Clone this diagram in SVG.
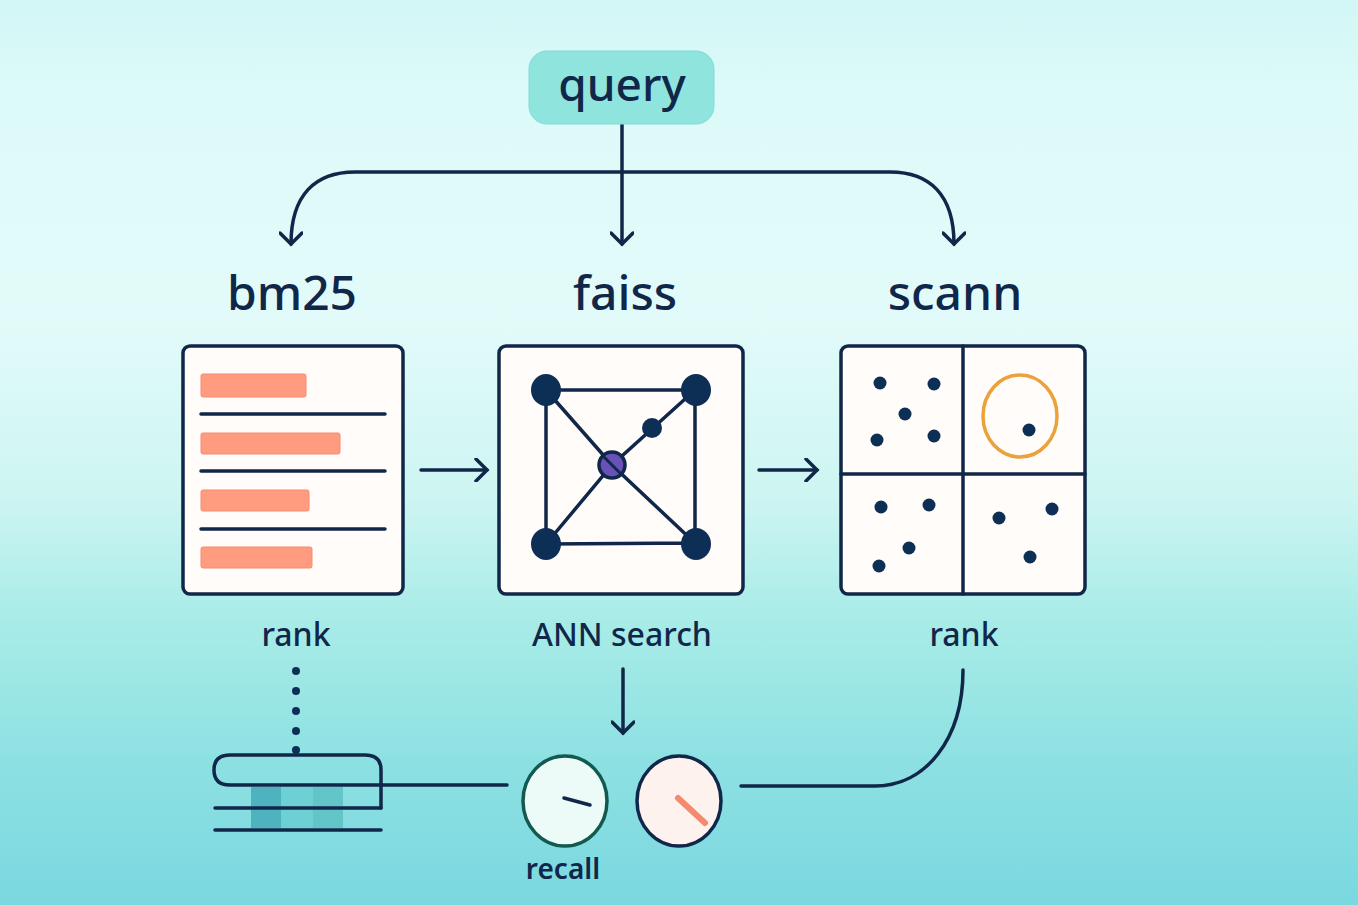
<svg xmlns="http://www.w3.org/2000/svg" width="1358" height="905" viewBox="0 0 1358 905">
<defs>
<linearGradient id="bg" x1="0" y1="0" x2="0" y2="1">
<stop offset="0" stop-color="#d2f7f6"/><stop offset="0.1" stop-color="#dcfaf8"/><stop offset="0.35" stop-color="#e2fbfa"/><stop offset="0.55" stop-color="#cdf5f2"/><stop offset="0.68" stop-color="#a9ece8"/><stop offset="0.85" stop-color="#8ce0e2"/><stop offset="1" stop-color="#7ad8e0"/>
</linearGradient>
<marker id="arr" viewBox="0 0 24 24" refX="20" refY="12" markerWidth="24" markerHeight="24" markerUnits="userSpaceOnUse" orient="auto"><path d="M9 1L20 12L9 23" fill="none" stroke="#10274a" stroke-width="3.5" stroke-linecap="round"/></marker>
</defs>
<style>
.l{fill:none;stroke:#10274a;stroke-width:3.5;stroke-linecap:round}
.c{fill:#fffcfa;stroke:#10274a;stroke-width:3.5}
.d{fill:#0d2f55}
.b{fill:#ff9c80;stroke:#f58a70;stroke-width:1}
text{font-family:"Noto Sans","Open Sans",sans-serif;fill:#10274a;text-anchor:middle;font-weight:500}
</style>
<rect width="1358" height="905" fill="url(#bg)"/>
<g id="connectors">
<path class="l" d="M622 124V244" marker-end="url(#arr)"/>
<path class="l" d="M622 172H355C315 172 291 195 291 244" marker-end="url(#arr)"/>
<path class="l" d="M622 172H890C930 172 954 195 954 244" marker-end="url(#arr)"/>
<path class="l" d="M421 470H487" marker-end="url(#arr)"/>
<path class="l" d="M759 470H817" marker-end="url(#arr)"/>
<path class="l" d="M623 669V733" marker-end="url(#arr)"/>
<g class="d"><circle cx="296" cy="671" r="4"/><circle cx="296" cy="691" r="4"/><circle cx="296" cy="711" r="4"/><circle cx="296" cy="731" r="4"/><circle cx="296" cy="750" r="4"/></g>
<path class="l" d="M381 785H507"/>
<path class="l" d="M741 786H875C925 786 963 740 963 670"/>
</g>
<g id="query"><rect x="529" y="51" width="185" height="73" rx="18" fill="#8fe4de" stroke="#7fdcd6"/><text x="622" y="101" font-size="46">query</text></g>
<g id="bm25"><text x="292" y="310" font-size="48">bm25</text>
<rect class="c" x="183" y="346" width="220" height="248" rx="7"/>
<rect class="b" x="201" y="374" width="105" height="23" rx="2"/><rect class="b" x="201" y="433" width="139" height="21" rx="2"/><rect class="b" x="201" y="490" width="108" height="21" rx="2"/><rect class="b" x="201" y="547" width="111" height="21" rx="2"/>
<path class="l" d="M201 414H385M201 471H385M201 529H385"/>
<text x="296" y="646" font-size="32">rank</text></g>
<g id="faiss"><text x="625" y="310" font-size="48">faiss</text>
<rect class="c" x="499" y="346" width="244" height="248" rx="7"/>
<path class="l" d="M546 390H695V543L546 544ZM546 390L612 465L696 544M695 390L612 465L546 544"/>
<ellipse class="d" cx="546" cy="390" rx="15" ry="16"/><ellipse class="d" cx="696" cy="390" rx="15" ry="16"/><ellipse class="d" cx="546" cy="544" rx="15" ry="16"/><ellipse class="d" cx="696" cy="544" rx="15" ry="16"/><circle class="d" cx="652" cy="428" r="10"/>
<circle cx="612" cy="465" r="13" fill="#6a51b8" stroke="#10274a" stroke-width="3.5"/>
<path class="l" d="M603 456L621 474" style="stroke-width:3"/>
<text x="622" y="646" font-size="32">ANN search</text></g>
<g id="scann"><text x="955" y="310" font-size="48">scann</text>
<rect class="c" x="841" y="346" width="244" height="248" rx="7"/>
<path class="l" d="M963 346V594M841 474H1085"/>
<ellipse cx="1020" cy="416" rx="37" ry="41" fill="none" stroke="#eca23c" stroke-width="3.5"/>
<g class="d"><circle cx="880" cy="383" r="6.5"/><circle cx="934" cy="384" r="6.5"/><circle cx="905" cy="414" r="6.5"/><circle cx="877" cy="440" r="6.5"/><circle cx="934" cy="436" r="6.5"/><circle cx="1029" cy="430" r="6.5"/><circle cx="881" cy="507" r="6.5"/><circle cx="929" cy="505" r="6.5"/><circle cx="909" cy="548" r="6.5"/><circle cx="879" cy="566" r="6.5"/><circle cx="999" cy="518" r="6.5"/><circle cx="1052" cy="509" r="6.5"/><circle cx="1030" cy="557" r="6.5"/></g>
<text x="964" y="646" font-size="32">rank</text></g>
<g id="index">
<rect x="251" y="787" width="92" height="41" fill="#6dd0d4"/>
<rect x="251" y="787" width="30" height="41" fill="#4fb3bf"/><rect x="313" y="787" width="30" height="41" fill="#62c6c8"/>
<path class="l" d="M215 808H381M215 830H381"/>
<path class="l" d="M230 755H365Q381 755 381 770V808M230 785H381M230 755Q214 755 214 770Q214 785 230 785"/>
</g>
<g id="recall"><ellipse cx="565" cy="801" rx="42" ry="45" fill="#ecfbf8" stroke="#12594f" stroke-width="3.5"/><path class="l" d="M564 798L590 805"/><text x="563" y="879" font-size="28" style="font-weight:600">recall</text></g>
<g id="dial"><ellipse cx="679" cy="801" rx="42" ry="45" fill="#fdf2ee" stroke="#10274a" stroke-width="3.5"/><path d="M678 798L705 823" fill="none" stroke="#f58a70" stroke-width="6" stroke-linecap="round"/></g>
</svg>
